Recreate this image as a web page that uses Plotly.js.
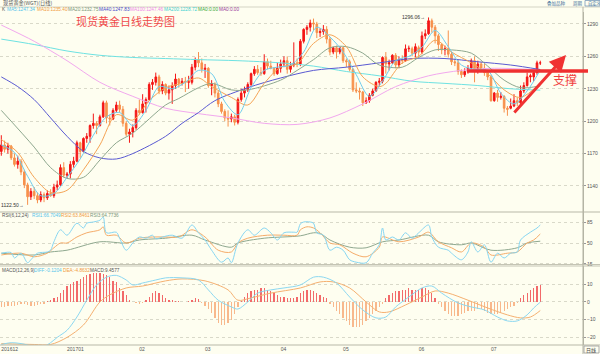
<!DOCTYPE html>
<html><head><meta charset="utf-8">
<script src="https://cdn.plot.ly/plotly-3.0.1.min.js"></script>
<style>html,body{margin:0;padding:0;background:#fefef0}#c{width:600px;height:354px}</style>
</head><body><div id="c"></div><script>
// ---------- candle data (index 0 = 2016-12-05) ----------
const open = [1172,1178,1174,1177,1166,1160,1163,1153,1141,1130,1135,1131,1127,1132,1129,1133,1131,1139,1141,1157,
1150,1151,1160,1163,1180,1172,1184,1186,1196,1198,1196,1204,1217,1203,1202,1210,1215,1211,1198,1188,1190,1194,
1210,1208,1216,1220,1234,1236,1241,1228,1234,1226,1229,1233,1239,1235,1237,1236,1236,1250,1257,1254,
1248,1249,1233,1234,1226,1216,1209,1203,1202,1204,1199,1220,1226,1229,1234,1244,1248,1245,1244,1255,1251,1249,1244,
1249,1253,1256,1248,1252,1254,1253,1274,1285,1287,1291,1290,1282,1283,1285,1276,1264,1268,1264,
1268,1256,1255,1248,1229,1228,1227,1217,1219,1224,1228,1236,1237,1259,1253,1254,1261,1252,1257,1256,1267,1267,1263,
1268,1264,1279,1281,1293,1287,1279,1271,1266,1267,1262,1255,1254,1246,1243,1246,1249,1256,1246,1253,1249,1245,
1241,1219,1226,1222,1223,1212,1212,1214,1219,1217,1228,1233,1241,1241,1245,1254];
const high = [1187,1182,1180,1178,1170,1168,1165,1155,1143,1138,1139,1134,1135,1134,1136,1137,1142,1145,1160,1162,
1153,1163,1167,1182,1181,1185,1189,1197,1207,1200,1206,1219,1219,1206,1212,1218,1219,1214,1200,1193,1197,1212,
1220,1225,1222,1236,1239,1245,1243,1237,1235,1233,1236,1244,1240,1240,1241,1242,1253,1259,1264,1258,
1253,1250,1238,1236,1228,1218,1211,1210,1207,1206,1222,1230,1232,1236,1245,1251,1252,1250,1262,1258,1256,1250,1254,
1257,1260,1260,1255,1273,1258,1276,1286,1289,1294,1295,1292,1286,1289,1288,1278,1269,1270,1269,
1269,1258,1257,1249,1236,1231,1228,1222,1226,1230,1237,1240,1260,1264,1257,1262,1263,1260,1261,1271,1270,1269,1272,
1270,1283,1285,1296.06,1295,1289,1281,1272,1270,1284,1264,1258,1257,1248,1249,1252,1258,1260,1256,1255,1253,1247,
1243,1227,1229,1227,1224,1214,1221,1225,1222,1233,1236,1245,1244,1247,1256,1256];
const low = [1168,1171,1170,1164,1158,1156,1150,1138,1122.5,1127,1128,1124,1125,1125,1127,1130,1129,1136,1140,1148,
1147,1147,1157,1162,1166,1171,1180,1180,1193,1188,1195,1203,1198,1196,1201,1208,1208,1195,1186,1180,1185,1192,
1206,1207,1208,1219,1229,1233,1225,1225,1224,1220,1216,1230,1231,1233,1227,1230,1234,1247,1250,1245,
1240,1231,1224,1222,1213,1207,1200,1195,1199,1196,1197,1218,1222,1227,1232,1242,1243,1242,1243,1248,1248,1242,1243,
1245,1250,1244,1245,1250,1250,1251,1272,1280,1283,1284,1277,1278,1280,1272,1261,1262,1258,1262,
1254,1250,1246,1227,1226,1220,1214,1216,1217,1223,1227,1232,1235,1244,1247,1253,1249,1249,1253,1255,1264,1260,1259,
1259,1262,1276,1280,1282,1272,1265,1262,1261,1259,1252,1251,1243,1240,1241,1244,1248,1236,1244,1246,1242,1238,
1218,1218,1218,1220,1208,1205,1211,1213,1214,1216,1226,1232,1236,1237,1243,1252];
const close = [1178,1174,1177,1166,1160,1163,1153,1141,1130,1135,1131,1127,1132,1129,1133,1131,1139,1141,1157,1150,
1151,1160,1163,1180,1172,1184,1186,1196,1198,1196,1204,1217,1203,1202,1210,1215,1211,1198,1188,1190,1194,1210,
1208,1216,1220,1234,1236,1241,1228,1234,1226,1229,1233,1239,1235,1237,1236,1236.5,1250,1257,1254,1248,
1249,1233,1234,1226,1216,1209,1203,1202,1204,1199,1220,1226,1229,1234,1244,1248,1245,1244,1255,1251,1249,1244,1249,
1253,1256,1248,1252,1254,1253,1274,1285,1287,1291,1290,1282,1283,1285,1276,1264,1268,1264,1268,
1256,1255,1248,1229,1228,1227,1217,1219,1224,1228,1236,1237,1259,1253,1254,1261,1252,1257,1256,1267,1267.5,1263,1269,
1264,1279,1281,1293,1287,1279,1271,1266,1267,1262,1255,1254,1246,1243,1246,1249,1256,1246,1253,1249,1245,1241,
1219,1226,1222,1223,1212,1211,1214,1219,1217,1228,1233,1241,1242,1245,1254,1254];

// ---------- moving averages ----------
const ma5X = [0,4,8,12,16,20,24,28,32,36,40,44,48,52,56,60,64,68,72,76,80,84,88,92,96,100,104,108,112,116,120,124,128,132,136,140,144,148,152,156,160,164];
const ma5Y = [1178,1171,1149,1131,1133,1148,1165,1187,1204,1208,1196,1210,1232,1230,1236,1247,1244,1218,1206,1231,1247,1250,1252,1264,1287,1278,1264,1243,1223,1237,1256,1260,1268.5,1284,1269,1252,1248,1247,1226,1216,1228,1247.34];
const ma10X = [0,5,10,15,20,25,30,35,40,45,50,55,60,64,70,75,80,85,90,95,100,105,110,115,117,122,127,132,137,143,148,153,158,164];
const ma10Y = [1183,1171,1148,1134,1136,1155,1178,1206,1201,1219,1231,1235,1240,1232,1222,1215,1235,1250,1253,1272,1280,1269,1241,1232,1235,1254,1260,1275,1264,1254,1244,1229,1222,1235.4];
const ma20X = [0,10,15,20,25,30,35,40,50,54,60,64,70,75,85,90,95,100,105,110,115,122,127,132,137,143,148,153,158,164];
const ma20Y = [1210,1176,1157,1147,1148,1164,1180,1189,1215,1221,1231,1235,1229,1229,1238,1247,1257,1268,1269,1263,1252,1250,1259,1266,1266,1263,1251,1238,1231,1232.75];
const ma40X = [0,5,10,15,20,25,30,35,40,50,55,60,65,75,85,95,105,115,125,135,145,155,164];
const ma40Y = [1241,1232,1220,1203,1186,1172,1166,1165,1170,1186,1198,1208,1219,1231,1240,1247,1250,1254,1258,1258,1255,1252,1247.83];
const ma100X = [0,10,20,30,40,50,60,70,80,90,100,110,120,130,140,150,164];
const ma100Y = [1289,1274,1256,1236,1223,1212,1207,1203,1198,1197,1203,1216,1232,1242,1247,1249,1247.46];
const ma200X = [0,10,20,30,40,50,60,72,85,95,105,115,125,135,145,155,164];
const ma200Y = [1276,1271,1265,1261,1259,1258,1257,1256,1254,1251,1246,1242,1237,1235,1233,1230,1228.72];

// ---------- RSI ----------
const rsi1X = [0,3,4,6,8,9,11,14,15,16,18,20,23,25,26,28,30,31,32,35,36,38,40,42,44,46,47,49,52,55,58,60,62,64,67,69,70,72,75,77,80,82,84,86,89,90,91,92,94,95,96,98,100,102,104,106,108,111,113,115,116,117,119,121,123,125,127,130,131,133,136,137,140,142,143,145,147,149,151,153,155,157,158,161,163,164];
const rsi1Y = [33,34,25,33,17,22,33,35,38,52,72,63,83,75,83,85,88,93,67,68,58,38,50,60,58,63,57,60,63,58,80,67,55,38,18,25,17,50,72,63,75,67,55,67,68,68,82,85,85,83,67,63,38,43,38,22,18,17,33,47,75,55,60,55,67,58,67,80,60,43,38,33,22,35,52,35,47,18,33,25,33,35,55,68,75,80];
const rsi2X = [0,6,10,14,16,18,20,23,26,30,31,32,35,38,42,46,50,54,58,62,66,70,72,75,81,86,90,91,93,95,97,100,103,107,111,115,116,121,127,130,133,137,140,143,147,149,154,157,160,162,164];
const rsi2Y = [30,33,27,33,42,50,50,60,67,72,77,63,63,50,58,60,60,60,72,60,38,35,50,58,63,63,63,72,77,75,67,50,47,33,27,43,60,52,60,68,52,42,35,50,43,30,33,35,50,55,65];
const rsi3X = [0,10,15,20,30,38,42,50,58,62,70,72,80,91,95,97,100,106,111,116,121,130,133,140,143,149,157,160,164];
const rsi3Y = [33,30,35,38,52,50,55,58,63,55,43,50,58,62,67,66,55,43,42,52,55,63,52,47,50,38,42,50,53];

// ---------- MACD ----------
const diffX = [0,3,6,10,13,15,17,20,23,26,29,32,35,38,40,43,47,50,55,60,63,66,70,72,75,78,82,86,91,95,98,102,106,110,114,117,120,124,128,131,134,139,143,147,151,154,157,160,162,164];
const diffY = [-24,-23,-23.5,-25,-25,-23,-20,-16,-8.5,1,9.6,14,15,12.4,9.6,10.7,12.4,13.6,13.6,12.4,6.8,1,-2.8,-4,0,5,6.8,7.9,9.6,14,14,10.7,2.8,-4.5,-9,-8.5,-2.8,2.8,7.9,9,5,-0.6,-2.8,-4.5,-8.5,-10.7,-10.7,-7.3,-3.4,-0.12];
const deaX = [0,10,15,20,25,30,33,38,43,50,55,62,69,72,76,82,91,97,101,106,111,115,118,123,128,132,136,142,148,154,158,161,164];
const deaY = [-23.5,-24,-24,-20,-13,0,4,7.9,9,11.9,13,11.9,6.8,1,2.3,5,7.9,11.3,11.3,7.9,0,-5.6,-5.6,-1.7,2.8,6.2,5,1,-3.4,-7.3,-9,-8.5,-4.86];
const macdHist = [-3,-3,-2.5,-2,-2,-1.5, -1,-1,-1.5,-2,-2,-1.5, -1,-1,0.5,1, 2,3,5,7, 9,10,11,12, 13,14,15,16,
16.5,16.5,16.5,16, 15,14,12,11, 8,6,4,1, 0,-0.5,-1,-0.5, 1,3,5,6, 5,4,2,1, 1,0.5,0.5,0, 0,0.5,1,2,1.5,
-0.5,-2,-4,-6, -9,-12,-13,-13,-12, -10,-7,-3,0.5, 3,5,6,7, 7,8,8,7, 6,5,4,3, 3,2.5,2,2, 3,5,6,7, 7,6,5,4,
3,2,-1,-3, -5,-7,-9,-11, -13,-14,-14,-14, -13,-11,-9,-7, -5,-3,-1,2, 4,5,6,6, 7,7,8,7, 7,7,8,8, 7,5,2,-1,
-3,-5,-7,-8, -8,-8,-7,-6, -5,-5,-5,-4, -4,-5,-6,-7, -7,-7,-6,-5, -4,-3,-2,-0.5, 2,4,5,7, 8,9,9.5];

// ---------- axis labels ----------
const monthIdx = [0,20,42,62,85,104,127,149];
const monthLabels = ['201612','201701','02','03','04','05','06','07'];
const priceTicks = [1140,1170,1200,1230,1260,1290];
const rsiTicks = [15,50,85];
const macdTicks = [-20,-10,0,10];

// ---------- drawing ----------
const idx = open.map((_, i) => i);
const BG = '#fefef0';
const PW = 583, PT = 12, PB = 345;
const px = x => x / PW;
const py = y => (PB - y) / (PB - PT);

function line(xs, ys, color, yaxis, w) {
  return {type:'scatter', mode:'lines', x:xs, y:ys, yaxis:yaxis, xaxis:'x',
    line:{color:color, width:w||1, shape:'spline', smoothing:0.9}, hoverinfo:'skip', showlegend:false};
}
const traces = [
  line(ma200X, ma200Y, '#6ee2e2', 'y'),
  line(ma100X, ma100Y, '#f2a8ee', 'y'),
  line(ma40X, ma40Y, '#5a5ad2', 'y'),
  line(ma20X, ma20Y, '#8fa88f', 'y'),
  line(ma10X, ma10Y, '#f5a455', 'y'),
  line(ma5X, ma5Y, '#6fcdee', 'y'),
  {type:'candlestick', x:idx, open:open, high:high, low:low, close:close, xaxis:'x', yaxis:'y',
   increasing:{line:{color:'#f41616', width:1}, fillcolor:'#f41616'},
   decreasing:{line:{color:'#f7914c', width:1}, fillcolor:'#f7914c'},
   whiskerwidth:0, hoverinfo:'skip', showlegend:false},
  line(rsi3X, rsi3Y, '#8fa88f', 'y2'),
  line(rsi2X, rsi2Y, '#f5ac6a', 'y2'),
  line(rsi1X, rsi1Y, '#86d6f2', 'y2'),
  {type:'bar', x:idx, y:macdHist, xaxis:'x', yaxis:'y3', width:0.38,
   marker:{color:macdHist.map(v => v >= 0 ? '#f26a6a' : '#f8b88c')}, hoverinfo:'skip', showlegend:false},
  line(deaX, deaY, '#f5b070', 'y3'),
  line(diffX, diffY, '#8cd8f0', 'y3')
];

const axFont = {family:'Liberation Sans', size:5, color:'#555'};
const yCommon = {side:'right', anchor:'x', showline:true, linecolor:'#b4b4a4', linewidth:1,
  ticks:'outside', ticklen:2, tickcolor:'#999', tickfont:axFont, gridcolor:'#d9d9c9', griddash:'dot',
  gridwidth:1, zeroline:false, fixedrange:true};

const hiIdx = high.indexOf(Math.max(...high));
const loIdx = low.indexOf(Math.min(...low));

const LAT = 'Liberation Sans';
const CJK = 'Noto Sans CJK SC';
function txt(x, y, t, color, size, anchor, fam) {
  return {xref:'paper', yref:'paper', x:px(x), y:py(y), text:t, showarrow:false,
    xanchor:anchor||'left', yanchor:'middle', font:{family:fam||LAT, size:size||4.7, color:color||'#444'}};
}
const annotations = [
  txt(1, 3, '现货黄金(WGT)(日线)', '#555', 5.2, 'left', CJK),
  txt(545, 3, '叠加品种', '#3a6e9a', 4.5, 'left', CJK),
  txt(571, 3, '周期', '#3a6e9a', 4.5, 'left', CJK),
  txt(586, 3, '自定义', '#3a6e9a', 4.3, 'left', CJK),
  txt(0, 10, 'K', '#555'),
  txt(5, 10, 'MA5:1247.34', '#55c4ea'),
  txt(35, 10, 'MA10:1235.40', '#f09a40'),
  txt(66, 10, 'MA20:1232.75', '#7a967a'),
  txt(97, 10, 'MA40:1247.83', '#4848c8'),
  txt(128, 10, 'MA100:1247.46', '#ee88e8'),
  txt(162, 10, 'MA200:1228.72', '#44d0d0'),
  txt(196, 10, 'MA0:0.00', '#3aaa3a'),
  txt(217, 10, 'MA0:0.00', '#9a3a9a'),
  txt(125, 21, '现货黄金日线走势图', '#f04a4a', 11, 'center', CJK),
  {xref:'x', yref:'y', x:hiIdx - 0.6, y:high[hiIdx], text:high[hiIdx].toFixed(2) + '→', showarrow:false,
   xanchor:'right', yanchor:'middle', font:{family:LAT, size:5, color:'#333'}},
  {xref:'x', yref:'y', x:loIdx - 0.6, y:low[loIdx], text:low[loIdx].toFixed(2) + '→', showarrow:false,
   xanchor:'right', yanchor:'middle', font:{family:LAT, size:5, color:'#333'}},
  txt(0, 215, 'RSI(6,12,24)', '#555'),
  txt(30, 215, 'RSI1:66.7049', '#55c4ea'),
  txt(59, 215, 'RSI2:63.8461', '#f09a40'),
  txt(88, 215, 'RSI3:64.7736', '#7a967a'),
  txt(0, 270, 'MACD(12,26,9)', '#555'),
  txt(32, 270, 'DIFF:-0.1204', '#55c4ea'),
  txt(61, 270, 'DEA:-4.8632', '#f09a40'),
  txt(88, 270, 'MACD:9.4577', '#555'),
  txt(591, 349.5, '日线', '#444', 5, 'center', CJK),
  txt(565, 80, '支撑', '#f04040', 12, 'center', CJK),
  {xref:'paper', yref:'paper', x:px(566), y:py(55), ax:-53, ay:59, text:'', showarrow:true,
   arrowhead:2, arrowsize:1.1, arrowwidth:3, arrowcolor:'#f03232'}
];

function hl(y, x0, x1, color, w) {
  return {type:'line', xref:'paper', yref:'paper', x0:px(x0), x1:px(x1), y0:py(y), y1:py(y),
    line:{color:color, width:w||1}};
}
const shapes = [
  hl(7, 0, 600, '#d4d4c4'),
  hl(212, 0, 600, '#b8b8a8'),
  hl(264.5, 0, 600, '#c4c4b4'),
  hl(266, 0, 600, '#c4c4b4'),
  hl(345, 0, 600, '#b8b8a8'),
  {type:'line', xref:'paper', yref:'paper', x0:px(583), x1:px(583), y0:py(7), y1:py(354), line:{color:'#b4b4a4', width:1}},
  {type:'rect', xref:'paper', yref:'paper', x0:px(585), x1:px(600), y0:py(0.5), y1:py(6), line:{color:'#7a9aba', width:0.8}},
  {type:'rect', xref:'paper', yref:'paper', x0:px(584), x1:px(599), y0:py(346), y1:py(353), line:{color:'#999', width:0.8}},
  hl(71, 467, 588, '#ef3030', 3.5)
];

const layout = {
  width:600, height:354, margin:{l:0, r:17, t:12, b:9},
  paper_bgcolor:BG, plot_bgcolor:BG, showlegend:false, dragmode:false,
  xaxis:{domain:[0,1], range:[-0.4,177], anchor:'y3', showgrid:false, zeroline:false,
    tickvals:monthIdx, ticktext:monthLabels, ticks:'', ticklabelposition:'outside right',
    tickfont:axFont, showline:false, rangeslider:{visible:false}, fixedrange:true},
  yaxis:Object.assign({}, yCommon, {domain:[py(212), 1], range:[1115.9, 1301.1], tickvals:priceTicks}),
  yaxis2:Object.assign({}, yCommon, {domain:[py(265), py(212)], range:[13.3, 101.7], tickvals:rsiTicks}),
  yaxis3:Object.assign({}, yCommon, {domain:[0, py(266)], range:[-24.3, 20.3], tickvals:macdTicks}),
  annotations:annotations, shapes:shapes, bargap:0
};
Plotly.newPlot('c', traces, layout, {staticPlot:true, displayModeBar:false});
</script></body></html>
